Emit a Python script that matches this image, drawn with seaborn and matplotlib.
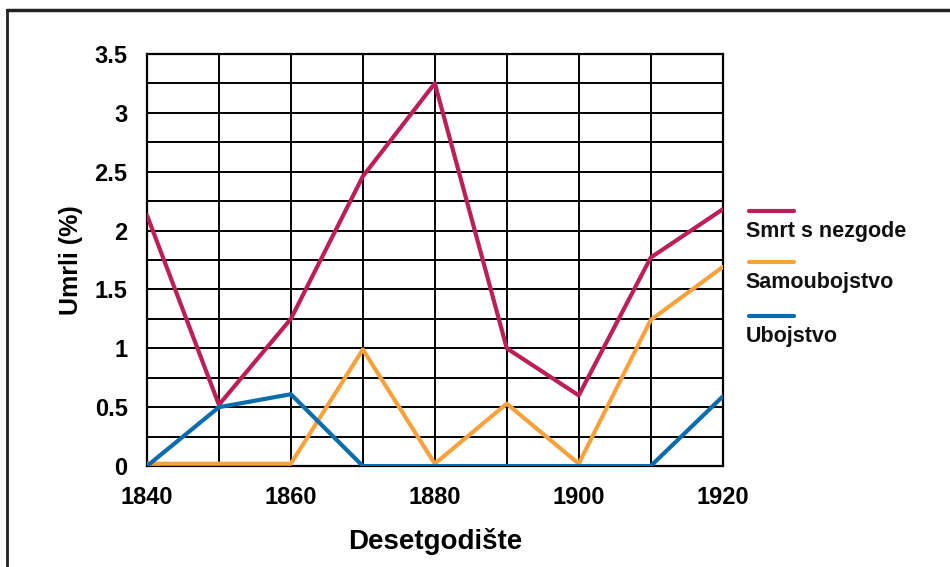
import numpy as np
import pandas as pd
import matplotlib
matplotlib.use("Agg")
import matplotlib.pyplot as plt
import seaborn as sns
from matplotlib.lines import Line2D

# Data
decades = [1840, 1850, 1860, 1870, 1880, 1890, 1900, 1910, 1920]
nezgode = [2.13, 0.52, 1.25, 2.46, 3.25, 1.00, 0.60, 1.77, 2.18]
samoubojstvo = [0.02, 0.02, 0.02, 0.99, 0.02, 0.53, 0.02, 1.24, 1.69]
ubojstvo = [0.00, 0.50, 0.61, 0.00, 0.00, 0.00, 0.00, 0.00, 0.59]
series_names = ["Smrt s nezgode", "Samoubojstvo", "Ubojstvo"]
colors = ["#BE1E58", "#F9A23C", "#0B6DAE"]

df = pd.DataFrame({
    "Desetgodište": decades * 3,
    "Umrli": nezgode + samoubojstvo + ubojstvo,
    "serija": [series_names[0]] * 9 + [series_names[1]] * 9 + [series_names[2]] * 9,
})

sns.set_style("white")
plt.rcParams["font.family"] = ["Liberation Sans", "DejaVu Sans"]
plt.rcParams["text.color"] = "black"
plt.rcParams["axes.labelcolor"] = "black"
plt.rcParams["xtick.color"] = "black"
plt.rcParams["ytick.color"] = "black"

fig = plt.figure(figsize=(9.5, 5.67), dpi=100)
ax = fig.add_axes([0.1547, 0.178, 0.606, 0.727])

sns.lineplot(data=df, x="Desetgodište", y="Umrli", hue="serija",
             palette=colors, linewidth=3.0, legend=False, ax=ax, zorder=3)

ax.set_xlim(1840, 1920)
ax.set_ylim(0, 3.5)
ax.set_xticks(np.arange(1840, 1921, 20))
ax.set_xticks(np.arange(1840, 1921, 10), minor=True)
ax.set_yticks([0, 0.5, 1, 1.5, 2, 2.5, 3, 3.5])
ax.set_yticklabels(["0", "0.5", "1", "1.5", "2", "2.5", "3", "3.5"])
ax.set_yticks(np.arange(0, 3.51, 0.25), minor=True)
ax.grid(True, which="both", color="black", linewidth=1.4)
ax.tick_params(which="both", length=0, labelsize=17, colors="black")
ax.tick_params(axis="x", pad=14)
ax.tick_params(axis="y", pad=14)
for lbl in ax.get_xticklabels() + ax.get_yticklabels():
    lbl.set_fontweight("bold")
for s in ax.spines.values():
    s.set_color("black")
    s.set_linewidth(1.6)

ax.set_xlabel("Desetgodište", fontsize=20, fontweight="heavy", labelpad=14)
ax.set_ylabel("Umrli (%)", fontsize=18, fontweight="heavy", labelpad=8)

# legend: coloured line above each label
leg_y = [0.628, 0.538, 0.443]
for name, col, y in zip(series_names, colors, leg_y):
    fig.add_artist(Line2D([0.788, 0.836], [y, y], color=col, linewidth=3,
                          transform=fig.transFigure))
    fig.text(0.785, y - 0.036, name, fontsize=15.5, fontweight="bold",
             va="center", ha="left", color="#111111")

# frame of the page
fig.add_artist(Line2D([0.007, 1.0], [0.982, 0.982], color="#222222",
                      linewidth=2.5, transform=fig.transFigure))
fig.add_artist(Line2D([0.007, 0.007], [0.0, 0.982], color="#222222",
                      linewidth=2, transform=fig.transFigure))

fig.savefig("out.png", dpi=100)
